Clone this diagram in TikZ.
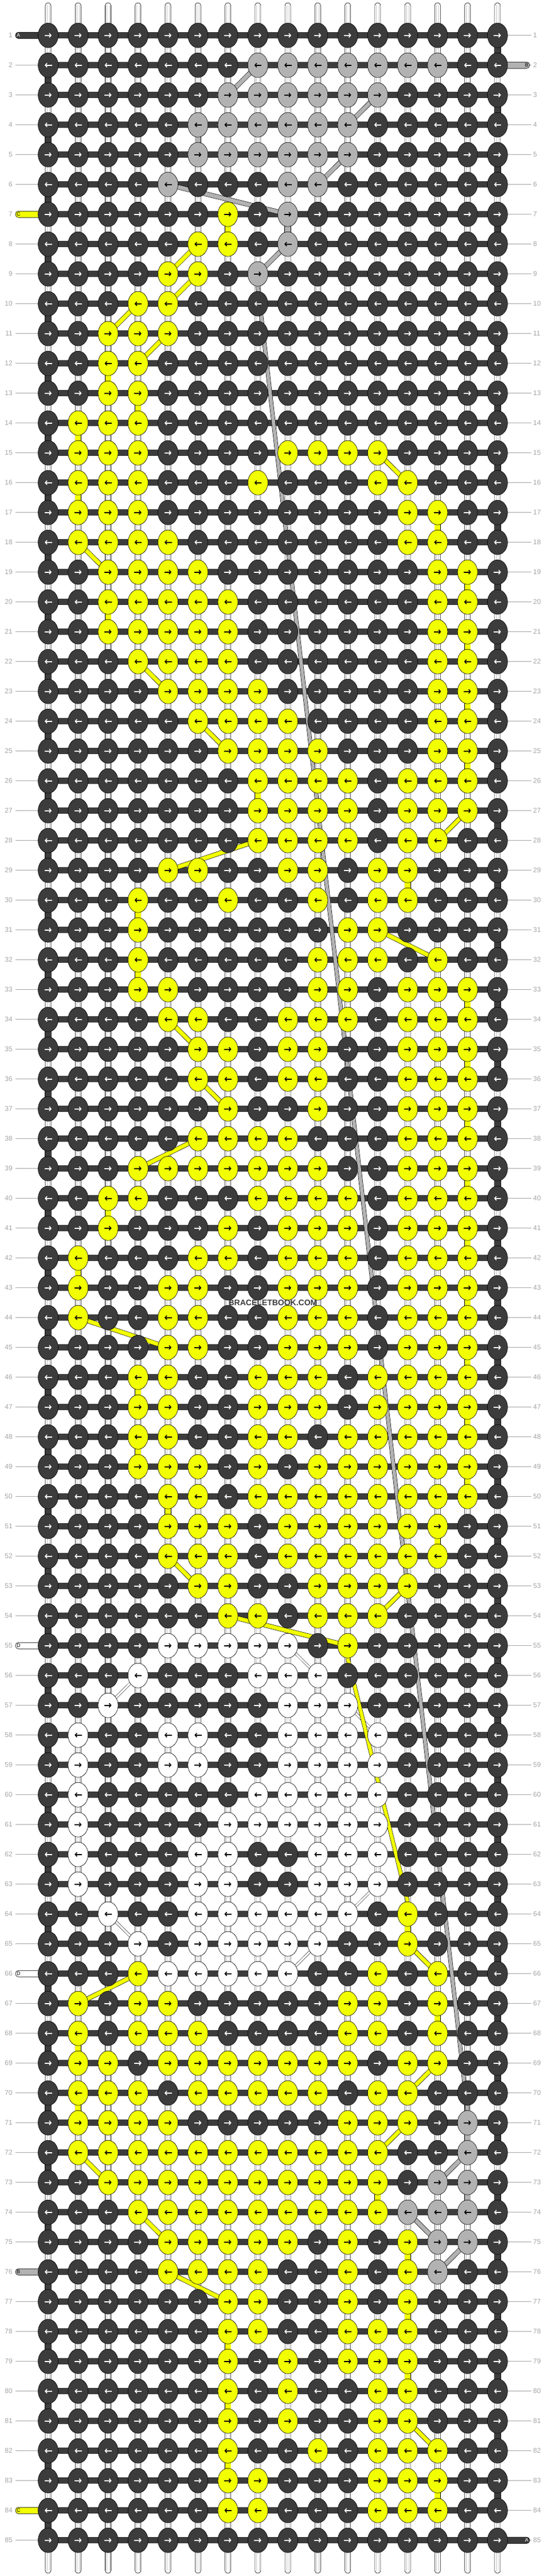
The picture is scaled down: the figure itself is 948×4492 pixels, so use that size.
\documentclass[tikz,border=0pt]{standalone}
\usepackage{fontspec}
\setmainfont{Liberation Sans}
\usetikzlibrary{arrows.meta,shapes.geometric}
\pgfdeclarelayer{l0}
\pgfdeclarelayer{l1}
\pgfdeclarelayer{l2}
\pgfdeclarelayer{l3}
\pgfsetlayers{l0,l1,l2,l3,main}
\definecolor{kD}{HTML}{3C3C3C}
\definecolor{kY}{HTML}{F2FF00}
\definecolor{kG}{HTML}{B2B2B2}
\definecolor{kW}{HTML}{FFFFFF}
\definecolor{aD}{HTML}{FFFFFF}
\definecolor{aY}{HTML}{000000}
\definecolor{aG}{HTML}{000000}
\definecolor{aW}{HTML}{000000}
\definecolor{labc}{HTML}{A6A6A6}
\definecolor{wline}{HTML}{C8C8C8}
\tikzset{
  knot/.style={ellipse, draw=black, line width=0.6pt, minimum width=35pt, minimum height=43pt, inner sep=0pt},
  arr/.style={line width=1.6pt, -{Straight Barb[length=3pt,width=7pt]}},
  warp/.style={draw=black, fill=white, line width=0.6pt, rounded corners=4.5pt},
  vconn/.style={double distance=10pt, line width=0.6pt, draw=black},
  econn/.style={double=kD, double distance=11pt, line width=0.6pt, draw=black},
  diagc/.style={double distance=7pt, line width=0.6pt, draw=black},
  wdiag/.style={double=white, double distance=3.5pt, line width=0.5pt, draw=black},
  stub/.style={draw=black, line width=0.6pt, rounded corners=5pt},
  stubtxt/.style={font=\fontsize{9}{9}\selectfont, inner sep=0pt},
  lab/.style={text=labc, font=\fontsize{12}{12}\selectfont, inner sep=0pt},
  labline/.style={draw=labc, line width=1pt},
}
\def\rowdef#1#2{\expandafter\def\csname rw#1\endcsname{#2}}
\rowdef{1}{D,D,D,D,D,D,D,D,D,D,D,D,D,D,D,D}
\rowdef{2}{D,D,D,D,D,D,D,G,G,G,G,G,G,G,D,D}
\rowdef{3}{D,D,D,D,D,D,G,G,G,G,G,G,D,D,D,D}
\rowdef{4}{D,D,D,D,D,G,G,G,G,G,G,D,D,D,D,D}
\rowdef{5}{D,D,D,D,D,G,G,G,G,G,G,D,D,D,D,D}
\rowdef{6}{D,D,D,D,G,D,D,D,G,G,D,D,D,D,D,D}
\rowdef{7}{D,D,D,D,D,D,Y,D,G,D,D,D,D,D,D,D}
\rowdef{8}{D,D,D,D,D,Y,Y,D,G,D,D,D,D,D,D,D}
\rowdef{9}{D,D,D,D,Y,Y,D,G,D,D,D,D,D,D,D,D}
\rowdef{10}{D,D,D,Y,Y,D,D,D,D,D,D,D,D,D,D,D}
\rowdef{11}{D,D,Y,Y,Y,D,D,D,D,D,D,D,D,D,D,D}
\rowdef{12}{D,D,Y,Y,D,D,D,D,D,D,D,D,D,D,D,D}
\rowdef{13}{D,D,Y,Y,D,D,D,D,D,D,D,D,D,D,D,D}
\rowdef{14}{D,Y,Y,Y,D,D,D,D,D,D,D,D,D,D,D,D}
\rowdef{15}{D,Y,Y,Y,D,D,D,D,Y,Y,Y,Y,D,D,D,D}
\rowdef{16}{D,Y,Y,Y,D,D,D,Y,D,D,D,Y,Y,D,D,D}
\rowdef{17}{D,Y,Y,Y,D,D,D,D,D,D,D,D,Y,Y,D,D}
\rowdef{18}{D,Y,Y,Y,Y,D,D,D,D,D,D,D,Y,Y,D,D}
\rowdef{19}{D,D,Y,Y,Y,Y,D,D,D,D,D,D,D,Y,Y,D}
\rowdef{20}{D,D,Y,Y,Y,Y,Y,D,D,D,D,D,D,Y,Y,D}
\rowdef{21}{D,D,Y,Y,Y,Y,Y,D,D,D,D,D,D,Y,Y,D}
\rowdef{22}{D,D,D,Y,Y,Y,Y,D,D,D,D,D,D,Y,Y,D}
\rowdef{23}{D,D,D,D,Y,Y,Y,Y,D,D,D,D,D,Y,Y,D}
\rowdef{24}{D,D,D,D,D,Y,Y,Y,Y,D,D,D,D,Y,Y,D}
\rowdef{25}{D,D,D,D,D,D,Y,Y,Y,Y,D,D,D,Y,Y,D}
\rowdef{26}{D,D,D,D,D,D,D,Y,Y,Y,Y,D,Y,Y,Y,D}
\rowdef{27}{D,D,D,D,D,D,D,Y,Y,Y,Y,D,Y,Y,Y,D}
\rowdef{28}{D,D,D,D,D,D,D,Y,Y,Y,Y,D,Y,Y,D,D}
\rowdef{29}{D,D,D,D,Y,Y,D,D,Y,Y,D,Y,Y,D,D,D}
\rowdef{30}{D,D,D,Y,D,D,Y,D,D,Y,D,Y,Y,D,D,D}
\rowdef{31}{D,D,D,Y,D,D,D,D,D,D,Y,Y,D,D,D,D}
\rowdef{32}{D,D,D,Y,D,D,D,D,D,Y,Y,Y,D,Y,D,D}
\rowdef{33}{D,D,D,Y,Y,D,D,D,D,Y,Y,D,Y,Y,Y,D}
\rowdef{34}{D,D,D,D,Y,Y,D,D,Y,Y,Y,D,Y,Y,Y,D}
\rowdef{35}{D,D,D,D,D,Y,Y,D,Y,Y,D,D,Y,Y,Y,D}
\rowdef{36}{D,D,D,D,D,Y,Y,D,Y,Y,D,D,Y,Y,Y,D}
\rowdef{37}{D,D,D,D,D,D,Y,D,D,Y,D,D,Y,Y,Y,D}
\rowdef{38}{D,D,D,D,D,Y,Y,Y,Y,D,D,D,Y,Y,Y,D}
\rowdef{39}{D,D,D,Y,Y,Y,Y,Y,Y,Y,D,D,Y,Y,Y,D}
\rowdef{40}{D,D,Y,Y,D,D,D,Y,Y,Y,Y,D,Y,Y,Y,D}
\rowdef{41}{D,D,Y,D,D,D,Y,D,Y,Y,Y,D,Y,Y,Y,D}
\rowdef{42}{D,Y,D,D,D,Y,Y,D,Y,Y,Y,D,Y,Y,Y,D}
\rowdef{43}{D,Y,D,D,Y,Y,D,D,Y,Y,Y,D,Y,Y,Y,D}
\rowdef{44}{D,Y,D,D,Y,Y,D,D,Y,Y,Y,D,Y,Y,Y,D}
\rowdef{45}{D,D,D,D,Y,Y,D,D,Y,Y,Y,D,Y,Y,Y,D}
\rowdef{46}{D,D,D,Y,Y,D,D,Y,Y,Y,D,Y,Y,Y,Y,D}
\rowdef{47}{D,D,D,Y,Y,D,D,Y,Y,Y,D,Y,Y,Y,Y,D}
\rowdef{48}{D,D,D,Y,Y,D,D,Y,Y,D,Y,Y,Y,Y,Y,D}
\rowdef{49}{D,D,D,Y,Y,Y,D,Y,D,Y,Y,Y,Y,Y,Y,D}
\rowdef{50}{D,D,D,D,Y,Y,D,Y,Y,Y,Y,Y,Y,Y,Y,D}
\rowdef{51}{D,D,D,D,Y,Y,Y,D,Y,Y,Y,Y,Y,Y,D,D}
\rowdef{52}{D,D,D,D,Y,Y,Y,D,Y,Y,Y,Y,Y,Y,D,D}
\rowdef{53}{D,D,D,D,D,Y,Y,D,D,Y,Y,Y,Y,D,D,D}
\rowdef{54}{D,D,D,D,D,D,Y,Y,D,Y,Y,Y,D,D,D,D}
\rowdef{55}{D,D,D,D,W,W,W,W,W,D,Y,D,D,D,D,D}
\rowdef{56}{D,D,D,W,D,D,D,W,W,W,D,D,D,D,D,D}
\rowdef{57}{D,D,W,D,D,D,D,D,W,W,W,D,D,D,D,D}
\rowdef{58}{D,W,D,D,W,W,D,D,W,W,W,W,D,D,D,D}
\rowdef{59}{D,W,D,D,W,W,D,D,W,W,W,W,D,D,D,D}
\rowdef{60}{D,W,D,D,D,D,D,W,W,W,W,W,D,D,D,D}
\rowdef{61}{D,W,D,D,D,D,W,W,W,W,W,W,D,D,D,D}
\rowdef{62}{D,W,D,D,D,W,W,D,D,W,W,W,D,D,D,D}
\rowdef{63}{D,W,D,D,D,W,W,D,D,W,W,W,D,D,D,D}
\rowdef{64}{D,D,W,D,D,W,W,W,W,W,W,D,Y,D,D,D}
\rowdef{65}{D,D,D,W,D,W,W,W,W,W,D,D,Y,D,D,D}
\rowdef{66}{D,D,D,Y,W,W,W,W,W,D,D,Y,D,Y,D,D}
\rowdef{67}{D,Y,D,Y,Y,D,D,D,D,D,Y,Y,D,Y,D,D}
\rowdef{68}{D,Y,D,Y,Y,Y,D,D,D,D,Y,Y,D,Y,D,D}
\rowdef{69}{D,Y,Y,D,Y,Y,Y,Y,Y,Y,Y,D,Y,Y,D,D}
\rowdef{70}{D,Y,Y,Y,D,Y,Y,Y,Y,Y,D,Y,Y,D,D,D}
\rowdef{71}{D,Y,Y,Y,Y,D,D,D,D,D,Y,Y,Y,D,G,D}
\rowdef{72}{D,Y,Y,Y,Y,Y,Y,Y,Y,Y,Y,Y,D,D,G,D}
\rowdef{73}{D,D,Y,Y,Y,Y,Y,Y,Y,Y,Y,Y,D,G,G,D}
\rowdef{74}{D,D,D,Y,Y,Y,Y,Y,Y,Y,Y,Y,G,G,G,D}
\rowdef{75}{D,D,D,D,Y,Y,Y,Y,Y,D,Y,D,Y,G,G,D}
\rowdef{76}{D,D,D,D,Y,Y,Y,Y,D,D,Y,D,Y,G,D,D}
\rowdef{77}{D,D,D,D,D,D,Y,Y,D,D,Y,D,Y,D,D,D}
\rowdef{78}{D,D,D,D,D,D,Y,Y,D,D,Y,Y,Y,D,D,D}
\rowdef{79}{D,D,D,D,D,D,Y,D,Y,D,Y,Y,Y,D,D,D}
\rowdef{80}{D,D,D,D,D,D,Y,D,Y,D,D,Y,Y,D,D,D}
\rowdef{81}{D,D,D,D,D,D,Y,D,Y,D,D,Y,Y,D,D,D}
\rowdef{82}{D,D,D,D,D,D,Y,D,D,Y,D,Y,Y,Y,D,D}
\rowdef{83}{D,D,D,D,D,D,Y,Y,D,D,D,Y,Y,Y,D,D}
\rowdef{84}{D,D,D,D,D,D,Y,Y,D,D,D,Y,Y,Y,D,D}
\rowdef{85}{D,D,D,D,D,D,D,D,D,D,D,D,D,D,D,D}
\begin{document}
\begin{tikzpicture}[x=1pt,y=-1pt]
\useasboundingbox (0,0) rectangle (948,4492);
\begin{pgfonlayer}{l0}\fill[white] (0,0) rectangle (948,4492);\end{pgfonlayer}
% knots
\foreach \r in {1,...,85} {
  \edef\rowdata{\csname rw\r\endcsname}
  \pgfmathsetmacro\yy{61.7+52*(\r-1)}
  \foreach \col [count=\c] in \rowdata {
    \pgfmathsetmacro\xx{84+52.26*(\c-1)}
    \node[knot, fill=k\col] (k\r-\c) at (\xx,\yy) {};
    \ifodd\r\relax
      \draw[arr, draw=a\col] ([xshift=-6.5pt]k\r-\c.center) -- ([xshift=6pt]k\r-\c.center);
    \else
      \draw[arr, draw=a\col] ([xshift=6.5pt]k\r-\c.center) -- ([xshift=-6pt]k\r-\c.center);
    \fi
  }
}
% warp strings
\begin{pgfonlayer}{l0}
\foreach \c in {1,...,16} {
  \pgfmathsetmacro\xx{84+52.26*(\c-1)}
  \coordinate (wt\c) at (\xx,5);
  \coordinate (wb\c) at (\xx,4487);
  \draw[warp] ([xshift=-5pt]wt\c) rectangle ([xshift=5pt]wb\c);
  \draw[wline, line width=0.4pt] ([xshift=-2.2pt,yshift=-4pt]wt\c) -- ([xshift=-2.2pt,yshift=4pt]wb\c);
  \draw[wline, line width=0.4pt] ([xshift=2.2pt,yshift=-4pt]wt\c) -- ([xshift=2.2pt,yshift=4pt]wb\c);
}
% row labels
\foreach \r in {1,...,85} {
  \pgfmathsetmacro\yy{61.7+52*(\r-1)}
  \node[lab, anchor=east] (ll\r) at (22,\yy) {\r};
  \node[lab, anchor=west] (lr\r) at (930,\yy) {\r};
  \draw[labline] ([xshift=5pt]ll\r.east) -- (k\r-1.west);
  \draw[labline] (k\r-16.east) -- ([xshift=-3pt]lr\r.west);
}
\end{pgfonlayer}
% vertical connectors
\begin{pgfonlayer}{l1}
\foreach \r in {1,...,84} {
  \pgfmathtruncatemacro\rn{\r+1}
  \ifodd\r\relax
    \draw[econn] (k\r-16.center) -- (k\rn-16.center);
  \else
    \draw[econn] (k\r-1.center) -- (k\rn-1.center);
  \fi
}
\foreach \r/\c/\cc in {4/6/G, 7/9/G, 70/15/G, 71/15/G, 73/15/G,
  7/7/Y, 12/3/Y, 13/4/Y, 14/2/Y, 16/2/Y, 17/14/Y, 19/15/Y, 20/3/Y, 21/15/Y,
  23/15/Y, 25/15/Y, 26/8/Y, 29/13/Y, 30/4/Y, 32/4/Y, 33/15/Y, 35/15/Y,
  37/15/Y, 39/15/Y, 40/3/Y, 41/15/Y, 42/2/Y, 43/15/Y, 45/15/Y, 46/4/Y,
  47/15/Y, 48/4/Y, 49/15/Y, 50/5/Y, 51/14/Y, 64/13/Y, 67/14/Y, 68/2/Y,
  70/2/Y, 73/12/Y, 75/13/Y, 77/13/Y, 78/7/Y, 79/13/Y, 80/7/Y, 82/7/Y, 83/14/Y} {
  \pgfmathtruncatemacro\rn{\r+1}
  \draw[vconn, double=k\cc] (k\r-\c.center) -- (k\rn-\c.center);
}
\end{pgfonlayer}
% horizontal bars and stubs
\begin{pgfonlayer}{l2}
\foreach \r in {1,...,85} {
  \fill[kD] ([yshift=-5.5pt]k\r-1.center) rectangle ([yshift=5.5pt]k\r-16.center);
}
\foreach \r/\cc/\tc/\lt in {1/kD/white/A, 7/kY/black/C, 55/kW/black/D, 66/kW/black/D, 76/kG/black/B, 84/kY/black/C} {
  \pgfmathsetmacro\yy{61.7+52*(\r-1)}
  \coordinate (sl\r) at (27,\yy);
  \draw[stub, fill=\cc] ([yshift=-5.5pt]sl\r) rectangle ([yshift=5.5pt]k\r-1.center);
  \node[stubtxt, text=\tc, anchor=west] (slt\r) at ([xshift=2pt]sl\r) {\lt};
}
\foreach \r/\cc/\tc/\lt in {2/kG/black/B, 85/kD/white/A} {
  \pgfmathsetmacro\yy{61.7+52*(\r-1)}
  \coordinate (sr\r) at (924,\yy);
  \draw[stub, fill=\cc] ([yshift=-5.5pt]k\r-16.center) rectangle ([yshift=5.5pt]sr\r);
  \node[stubtxt, text=\tc, anchor=east] (srt\r) at ([xshift=-2pt]sr\r) {\lt};
}
\end{pgfonlayer}
% diagonal carries and floats
\begin{pgfonlayer}{l3}
\foreach \ra/\ca/\cb/\cc in {2/8/7/G, 3/12/11/G, 5/11/10/G, 6/5/9/G, 8/9/8/G,
  72/15/14/G, 74/13/14/G, 75/15/14/G,
  8/6/5/Y, 9/6/5/Y, 10/4/3/Y, 11/5/4/Y, 15/12/13/Y, 18/2/3/Y, 22/4/5/Y,
  24/6/7/Y, 27/15/14/Y, 28/8/5/Y, 31/12/14/Y, 34/5/6/Y, 36/6/7/Y, 38/6/4/Y,
  44/2/5/Y, 52/5/6/Y, 53/13/12/Y, 54/7/11/Y, 65/13/14/Y, 66/4/2/Y,
  69/14/13/Y, 71/13/12/Y, 72/2/3/Y, 74/4/5/Y, 76/5/7/Y, 81/13/14/Y} {
  \pgfmathtruncatemacro\rn{\ra+1}
  \draw[diagc, double=k\cc] (k\ra-\ca.center) -- (k\rn-\cb.center);
}
\foreach \ra/\ca/\cb in {55/9/10, 56/4/3, 57/11/12, 63/12/11, 64/3/4, 65/10/9} {
  \pgfmathtruncatemacro\rn{\ra+1}
  \draw[wdiag] (k\ra-\ca.center) -- (k\rn-\cb.center);
}
\draw[diagc, double=kG, double distance=6pt] (k9-8.south) -- (k71-15.north);
\draw[diagc, double=kY, double distance=6pt] (k55-11.south) -- (k64-13.north);
\end{pgfonlayer}
\node[font=\bfseries\fontsize{14}{14}\selectfont, text=kD] (wm) at (476,2272) {BRACELETBOOK.COM};
\end{tikzpicture}
\end{document}
